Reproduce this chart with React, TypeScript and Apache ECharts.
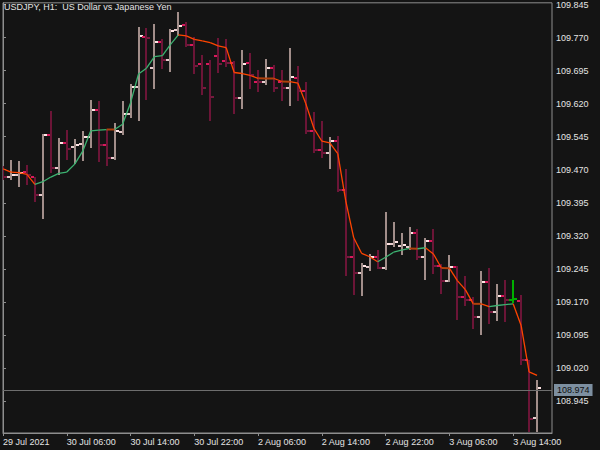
import React, { useEffect, useRef } from "react";
import * as echarts from "echarts";

// ---- data ----
const chartTitle = "USDJPY, H1:  US Dollar vs Japanese Yen";
const timeLabels = [
  "29 Jul 2021", "30 Jul 06:00", "30 Jul 14:00", "30 Jul 22:00", "2 Aug 06:00",
  "2 Aug 14:00", "2 Aug 22:00", "3 Aug 06:00", "3 Aug 14:00",
];
const barsPerLabel = 8;
const priceTicks = [
  108.945, 109.02, 109.095, 109.17, 109.245, 109.32, 109.395,
  109.47, 109.545, 109.62, 109.695, 109.77, 109.845,
];
const open = [
  109.462, 109.453, 109.457, 109.464, 109.453, 109.412, 109.548, 109.473, 109.531, 109.521,
  109.528, 109.545, 109.605, 109.527, 109.497, 109.556, 109.596, 109.657, 109.772, 109.700,
  109.760, 109.718, 109.786, 109.798, 109.753, 109.710, 109.710, 109.728, 109.717, 109.713,
  109.633, 109.712, 109.670, 109.668, 109.702, 109.670, 109.655, 109.678, 109.649, 109.559,
  109.514, 109.508, 109.535, 109.424, 109.271, 109.235, 109.250, 109.273, 109.247, 109.301,
  109.296, 109.294, 109.326, 109.271, 109.309, 109.251, 109.218, 109.250, 109.182, 109.175,
  109.135, 109.215, 109.148, 109.183, 109.175, 109.173, 109.038, 108.906,
];
const high = [
  109.478, 109.492, 109.490, 109.480, 109.454, 109.552, 109.604, 109.541, 109.561, 109.540,
  109.557, 109.629, 109.627, 109.561, 109.575, 109.625, 109.665, 109.795, 109.791, 109.800,
  109.767, 109.789, 109.829, 109.806, 109.772, 109.731, 109.719, 109.770, 109.766, 109.716,
  109.742, 109.734, 109.697, 109.722, 109.708, 109.697, 109.747, 109.706, 109.669, 109.601,
  109.580, 109.544, 109.546, 109.471, 109.313, 109.258, 109.279, 109.288, 109.375, 109.352,
  109.326, 109.340, 109.335, 109.316, 109.335, 109.255, 109.276, 109.251, 109.230, 109.182,
  109.241, 109.248, 109.211, 109.220, 109.220, 109.186, 109.038, 108.994,
];
const low = [
  109.448, 109.450, 109.433, 109.437, 109.399, 109.360, 109.465, 109.461, 109.495, 109.486,
  109.492, 109.522, 109.490, 109.480, 109.495, 109.550, 109.589, 109.584, 109.630, 109.655,
  109.700, 109.693, 109.776, 109.751, 109.689, 109.643, 109.582, 109.691, 109.706, 109.599,
  109.610, 109.655, 109.649, 109.664, 109.648, 109.629, 109.618, 109.629, 109.554, 109.511,
  109.500, 109.474, 109.422, 109.232, 109.188, 109.186, 109.243, 109.246, 109.245, 109.296,
  109.279, 109.290, 109.267, 109.222, 109.235, 109.191, 109.217, 109.132, 109.162, 109.111,
  109.098, 109.122, 109.128, 109.126, 109.171, 109.030, 108.878, 108.878,
];
const close = [
  109.453, 109.459, 109.462, 109.459, 109.412, 109.548, 109.474, 109.530, 109.518, 109.527,
  109.545, 109.605, 109.526, 109.497, 109.557, 109.596, 109.657, 109.773, 109.768, 109.760,
  109.718, 109.785, 109.797, 109.753, 109.706, 109.655, 109.635, 109.710, 109.713, 109.633,
  109.710, 109.686, 109.668, 109.702, 109.655, 109.655, 109.680, 109.649, 109.559, 109.514,
  109.508, 109.536, 109.424, 109.271, 109.235, 109.251, 109.273, 109.247, 109.301, 109.305,
  109.299, 109.326, 109.271, 109.309, 109.251, 109.218, 109.250, 109.182, 109.175, 109.135,
  109.216, 109.148, 109.184, 109.175, 109.176, 109.038, 108.904, 108.974,
];
const movingAverage = [
  109.4722, 109.4647, 109.4635, 109.4595, 109.4369, 109.4428, 109.4534, 109.4618, 109.4647, 109.4828,
  109.5121, 109.5580, 109.5598, 109.5612, 109.5612, 109.5732, 109.6217, 109.6873, 109.7004, 109.7268,
  109.7291, 109.7539, 109.7759, 109.7736, 109.7659, 109.7623, 109.7585, 109.7510, 109.7472, 109.6907,
  109.6884, 109.6839, 109.6776, 109.6771, 109.6771, 109.6703, 109.6699, 109.6665, 109.6195, 109.5641,
  109.5347, 109.5309, 109.5065, 109.3992, 109.3156, 109.2801, 109.2726, 109.2613, 109.2715, 109.2828,
  109.2878, 109.2914, 109.2907, 109.2930, 109.2787, 109.2471, 109.2466, 109.2184, 109.1980, 109.1657,
  109.1657, 109.1596, 109.1619, 109.1641, 109.1657, 109.1167, 109.0112, 109.0033,
];
const signalBars = [64];
const flatThreshold = 0.0008;

// ---- axis ranges ----
const priceMin = 108.8726;
const priceMax = 109.8488;
const visibleBars = 68.875;

// ---- styles ----
const BG = "#141414";
const AXIS = "#8e8e8e";
const TEXT = "#e4e4e4";
const FONT = "Liberation Sans, Arial, sans-serif";
const UP_BODY = "#a28e8a";
const UP_OPEN = "#e6cccc";
const UP_CLOSE = "#ffe4e4";
const DN_BODY = "#6c1537";
const DN_OPEN = "#d81a5c";
const DN_CLOSE = "#761a3e";
const SIGNAL = "#00b000";
const MA_UP = "#3cb371";
const MA_DOWN = "#ff4500";
const MA_FLAT = "#b0400c";

export default function App() {
  const ref = useRef<HTMLDivElement>(null);

  useEffect(() => {
    const chart = echarts.init(ref.current as HTMLDivElement, null, { renderer: "svg" });
    const barData = open.map((o, i) => [i, o, high[i], low[i], close[i]]);
    const maData = movingAverage.slice(1).map((v, k) => [k + 1, movingAverage[k], v]);
    const labelIdx = timeLabels.map((_, k) => k * barsPerLabel);
    const lastPrice = close[close.length - 1];

    const option: any = {
      animation: false,
      backgroundColor: BG,
      title: {
        text: chartTitle,
        left: 4,
        top: 2,
        padding: 0,
        textStyle: { color: TEXT, fontSize: 9, fontWeight: "normal", fontFamily: FONT },
      },
      grid: {
        left: 1,
        top: 1,
        right: 48,
        bottom: 17,
        show: true,
        borderColor: AXIS,
        borderWidth: 1,
        backgroundColor: "transparent",
      },
      xAxis: {
        type: "value",
        min: 0,
        max: visibleBars,
        axisLine: { show: true, lineStyle: { color: AXIS, width: 1 } },
        axisTick: { show: true, length: 3, customValues: labelIdx, lineStyle: { color: AXIS } },
        axisLabel: {
          customValues: labelIdx,
          formatter: (v: number) => timeLabels[Math.round(v / barsPerLabel)] ?? "",
          align: "left",
          margin: 4,
          color: TEXT,
          fontSize: 9,
          fontFamily: FONT,
        },
        splitLine: { show: false },
      },
      yAxis: {
        type: "value",
        position: "right",
        min: priceMin,
        max: priceMax,
        axisLine: { show: true, lineStyle: { color: AXIS, width: 1 } },
        axisTick: { show: true, length: 3, customValues: priceTicks, lineStyle: { color: AXIS } },
        axisLabel: {
          customValues: priceTicks,
          formatter: (v: number) => v.toFixed(3),
          margin: 4,
          color: TEXT,
          fontSize: 9,
          fontFamily: FONT,
        },
        splitLine: { show: false },
      },
      series: [
        {
          type: "line",
          data: [[labelIdx[0], lastPrice]],
          showSymbol: false,
          symbol: "none",
          lineStyle: { opacity: 0 },
          silent: true,
          z: 1,
          markLine: {
            silent: true,
            symbol: ["none", "none"],
            data: [{ yAxis: lastPrice }],
            lineStyle: { color: "#6e6e6e", width: 1, type: "solid" },
            label: {
              show: true,
              position: "end",
              distance: 2,
              formatter: () => lastPrice.toFixed(3),
              backgroundColor: "#7d8fa0",
              color: "#101010",
              fontSize: 9,
              fontFamily: FONT,
              padding: [2, 3, 1, 3],
            },
          },
        },
        {
          type: "custom",
          clip: true,
          z: 2,
          data: barData,
          encode: { x: 0, y: [1, 2, 3, 4] },
          renderItem: (_p: any, api: any) => {
            const i = api.value(0);
            const o = api.value(1);
            const h = api.value(2);
            const l = api.value(3);
            const c = api.value(4);
            const pH = api.coord([i, h]);
            const pL = api.coord([i, l]);
            const pO = api.coord([i, o]);
            const pC = api.coord([i, c]);
            const x = Math.round(pH[0]);
            const yH = Math.round(pH[1]);
            const yL = Math.round(pL[1]);
            const yO = Math.round(pO[1]);
            const yC = Math.round(pC[1]);
            const sig = signalBars.includes(i);
            const up = c >= o;
            const body = sig ? SIGNAL : up ? UP_BODY : DN_BODY;
            const oc = sig ? SIGNAL : up ? UP_OPEN : DN_OPEN;
            const cc = sig ? SIGNAL : up ? UP_CLOSE : DN_CLOSE;
            return {
              type: "group",
              children: [
                { type: "rect", shape: { x: x - 1, y: yH, width: 2, height: Math.max(1, yL - yH + 1) }, style: { fill: body } },
                { type: "rect", shape: { x: x - 4, y: yO - 1, width: 3, height: 2 }, style: { fill: oc } },
                { type: "rect", shape: { x: x + 1, y: yC - 1, width: 3, height: 2 }, style: { fill: cc } },
              ],
            };
          },
        },
        {
          type: "custom",
          clip: true,
          z: 3,
          data: maData,
          encode: { x: 0, y: [1, 2] },
          renderItem: (_p: any, api: any) => {
            const i = api.value(0);
            const a = api.value(1);
            const b = api.value(2);
            const p1 = api.coord([i - 1, a]);
            const p2 = api.coord([i, b]);
            const d = b - a;
            const flat = Math.abs(d) <= flatThreshold;
            const color = flat ? MA_FLAT : d > 0 ? MA_UP : MA_DOWN;
            return {
              type: "line",
              shape: { x1: p1[0], y1: p1[1], x2: p2[0], y2: p2[1] },
              style: { stroke: color, lineWidth: flat ? 2 : 1.3 },
            };
          },
        },
      ],
    };
    chart.setOption(option);
    return () => chart.dispose();
  }, []);

  return (
    <div
      ref={ref}
      style={{ position: "fixed", left: 0, top: 0, width: 600, height: 450 }}
    />
  );
}
